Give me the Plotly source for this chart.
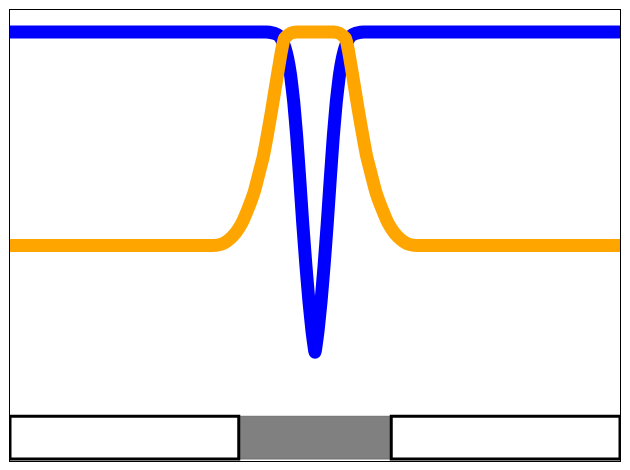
import plotly.graph_objects as go

# Positions along the horizontal axis (arbitrary units, centred on 0)
x_blue = [-10.0, -1.6, -1.4, -1.3, -1.2, -1.1, -1.0, -0.9, -0.8, -0.7, -0.6, -0.5,
          -0.4, -0.3, -0.2, -0.1, 0.0, 0.1, 0.2, 0.3, 0.4, 0.5, 0.6, 0.7, 0.8,
          0.9, 1.0, 1.1, 1.2, 1.3, 1.4, 1.6, 10.0]
blue_values = [1.0, 1.0, 0.998, 0.996, 0.992, 0.983, 0.967, 0.940, 0.899, 0.838, 0.756, 0.655,
               0.550, 0.455, 0.370, 0.300, 0.25, 0.300, 0.370, 0.455, 0.550, 0.655, 0.756, 0.838, 0.899,
               0.940, 0.967, 0.983, 0.992, 0.996, 0.998, 1.0, 1.0]

x_orange = [-10.0, -3.5, -3.2, -3.0, -2.8, -2.6, -2.4, -2.2, -2.0, -1.8, -1.7, -1.6, -1.5,
            -1.4, -1.3, -1.2, -1.1, -1.0, -0.8, -0.6, 0.0, 0.6, 0.8, 1.0, 1.1, 1.2, 1.3,
            1.4, 1.5, 1.6, 1.7, 1.8, 2.0, 2.2, 2.4, 2.6, 2.8, 3.0, 3.2, 3.5, 10.0]
orange_values = [0.5, 0.5, 0.501, 0.505, 0.515, 0.530, 0.552, 0.585, 0.624, 0.679, 0.707, 0.744, 0.784,
                 0.826, 0.870, 0.913, 0.955, 0.985, 0.997, 1.0, 1.0, 1.0, 0.997, 0.985, 0.955, 0.913, 0.870,
                 0.826, 0.784, 0.744, 0.707, 0.679, 0.624, 0.585, 0.552, 0.530, 0.515, 0.505, 0.501, 0.5, 0.5]

# Bottom strip regions: edges along x and fill colours
region_edges = [-10.0, -2.5, 2.5, 10.0]
region_fills = ["white", "gray", "white"]
region_height = 0.1

fig = go.Figure()
fig.add_trace(go.Scatter(x=x_blue, y=blue_values, mode="lines",
                         line=dict(color="#0000ff", width=13, shape="spline", smoothing=0.3),
                         showlegend=False, hoverinfo="skip"))
fig.add_trace(go.Scatter(x=x_orange, y=orange_values, mode="lines",
                         line=dict(color="#ffa500", width=13, shape="spline", smoothing=0.5),
                         showlegend=False, hoverinfo="skip"))

# gray middle region first, white regions with heavy black borders on top
order = [1, 0, 2]
for i in order:
    fill = region_fills[i]
    if fill == "gray":
        line = dict(color="#6e6e6e", width=1)
    else:
        line = dict(color="black", width=3)
    fig.add_shape(type="rect", xref="x", yref="y",
                  x0=region_edges[i], x1=region_edges[i + 1], y0=0, y1=region_height,
                  fillcolor="#808080" if fill == "gray" else "white",
                  line=line, layer="above")

fig.update_layout(
    width=630, height=470,
    margin=dict(l=10, r=10, t=10, b=9),
    paper_bgcolor="white", plot_bgcolor="white",
    showlegend=False,
)
fig.update_xaxes(range=[-10, 10], showgrid=False, zeroline=False, showticklabels=False,
                 ticks="", showline=True, mirror=True, linecolor="black", linewidth=1)
fig.update_yaxes(range=[-0.0047, 1.0515], showgrid=False, zeroline=False, showticklabels=False,
                 ticks="", showline=True, mirror=True, linecolor="black", linewidth=1)

fig.write_html("out.html", config={"displayModeBar": False})
